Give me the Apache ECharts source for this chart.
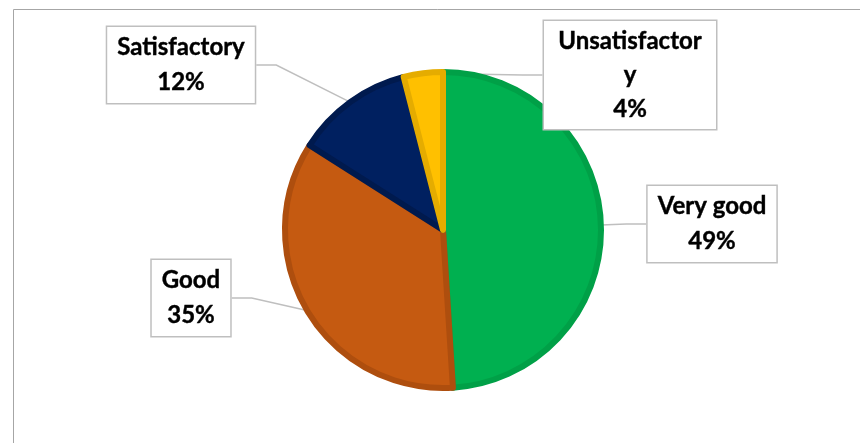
<!DOCTYPE html>
<html>
<head>
<meta charset="utf-8">
<script src="https://cdn.jsdelivr.net/npm/echarts@6/dist/echarts.min.js"></script>
<style>
  html, body { margin: 0; padding: 0; background: #fff; }
  #chart { width: 860px; height: 443px; }
</style>
</head>
<body>
<div id="chart"></div>
<script>
// data
let categories = ['Very good', 'Good', 'Satisfactory', 'Unsatisfactory'];
let percents = [49, 35, 12, 4];

// styles
let fillColors = ['#00B050', '#C55A11', '#002060', '#FFC000'];
let edgeColors = ['#00A047', '#AE4E0E', '#001A4E', '#E5AC00'];
// where each callout box sits (centre)
let labelSpots = [[712, 224], [191, 298], [181, 65], [630, 75]];

let myChart = echarts.init(document.getElementById('chart'));

let pieData = categories.map(function (name, i) {
    let item = {
        name: name,
        value: percents[i],
        itemStyle: {
            color: fillColors[i],
            borderColor: edgeColors[i],
        }
    };
    if (name === 'Unsatisfactory') {
        item.label = { width: 152, overflow: 'breakAll', lineHeight: 34 };
    }
    return item;
});

let option = {
    backgroundColor: '#fff',
    animation: false,
    graphic: [{
        type: 'rect',
        shape: { x: 13.5, y: 9.5, width: 900, height: 500 },
        style: { fill: 'none', stroke: '#A6A6A6', lineWidth: 1 },
        silent: true,
    }],
    series: [{
        type: 'pie',
        center: [443, 230],
        radius: 158,
        startAngle: 90,
        clockwise: true,
        itemStyle: {
            borderWidth: 6,
        },
        label: {
            show: true,
            position: 'outside',
            formatter: '{b}\n{c}%',
            fontFamily: 'Lato',
            fontWeight: 'bold',
            fontSize: 24,
            lineHeight: 35,
            color: '#000',
            textBorderColor: '#000',
            textBorderWidth: 0.4,
            align: 'center',
            backgroundColor: '#fff',
            borderColor: '#BFBFBF',
            borderWidth: 1.5,
            padding: [3, 10, 3, 10],
        },
        labelLine: {
            show: true,
            length: 20,
            length2: 20,
            lineStyle: { color: '#BFBFBF', width: 1.5 },
        },
        labelLayout: function (params) {
            let spot = labelSpots[params.dataIndex];
            return {
                x: spot[0],
                y: spot[1],
                align: 'center',
                verticalAlign: 'middle',
            };
        },
        emphasis: { disabled: true },
        data: pieData,
    }]
};
myChart.setOption(option);
</script>
</body>
</html>
